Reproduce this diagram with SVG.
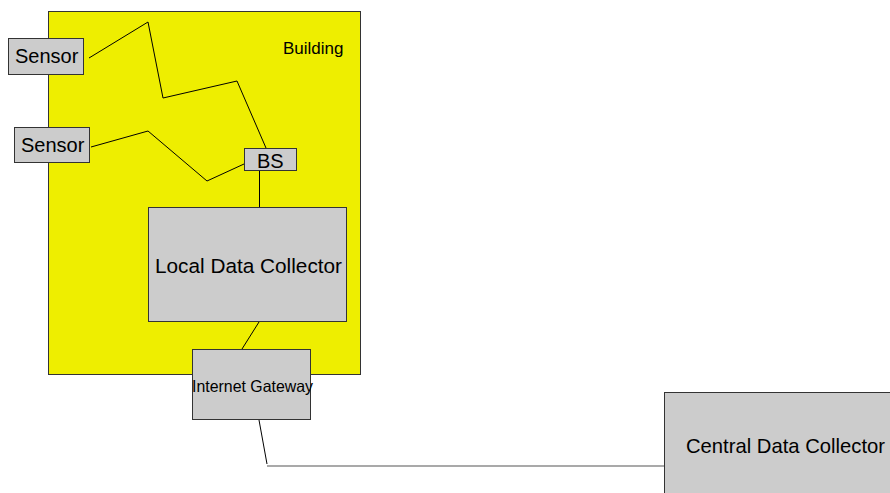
<svg xmlns="http://www.w3.org/2000/svg" width="890" height="493" viewBox="0 0 890 493">
<style>
.box{fill:#cccccc;stroke:#333333;stroke-width:1}
.t{font-family:"Liberation Sans",Arial,sans-serif;fill:#000000}
.w{fill:none;stroke:#000000;stroke-width:1}
</style>
<rect width="890" height="493" fill="#ffffff"/>
<g id="building">
<rect x="48.5" y="11.5" width="312" height="363" fill="#eeee00" stroke="#333333" stroke-width="1"/>
<text class="t" x="283" y="54" font-size="17">Building</text>
</g>
<g id="connectors">
<polyline class="w" points="89,58 148,22 163,98 237,81 266,148"/>
<polyline class="w" points="91,147 148,131 207,181 244,164"/>
<line class="w" x1="259.5" y1="171" x2="259.5" y2="207"/>
<line class="w" x1="259" y1="322" x2="242" y2="349"/>
<line class="w" x1="259" y1="420" x2="267" y2="464"/>
<line x1="267" y1="466" x2="665" y2="466" stroke="#555555" stroke-width="1.2"/>
</g>
<g id="sensor1">
<rect class="box" x="8.5" y="38.5" width="75" height="36"/>
<text class="t" x="15" y="63" font-size="20">Sensor</text>
</g>
<g id="sensor2">
<rect class="box" x="14.5" y="127.5" width="75" height="35"/>
<text class="t" x="21" y="152" font-size="20">Sensor</text>
</g>
<g id="bs">
<rect class="box" x="244.5" y="148.5" width="52" height="22"/>
<text class="t" x="257" y="168" font-size="20">BS</text>
</g>
<g id="local-data-collector">
<rect class="box" x="148.5" y="207.5" width="198" height="114"/>
<text class="t" x="155" y="273" font-size="20.5" textLength="187" lengthAdjust="spacingAndGlyphs">Local Data Collector</text>
</g>
<g id="internet-gateway">
<rect class="box" x="192.5" y="349.5" width="118" height="70"/>
<text class="t" x="192" y="392" font-size="16.5" textLength="121" lengthAdjust="spacingAndGlyphs">Internet Gateway</text>
</g>
<g id="central-data-collector">
<rect class="box" x="664.5" y="392.5" width="240" height="110"/>
<text class="t" x="686" y="453" font-size="20.2" textLength="199" lengthAdjust="spacingAndGlyphs">Central Data Collector</text>
</g>
</svg>
